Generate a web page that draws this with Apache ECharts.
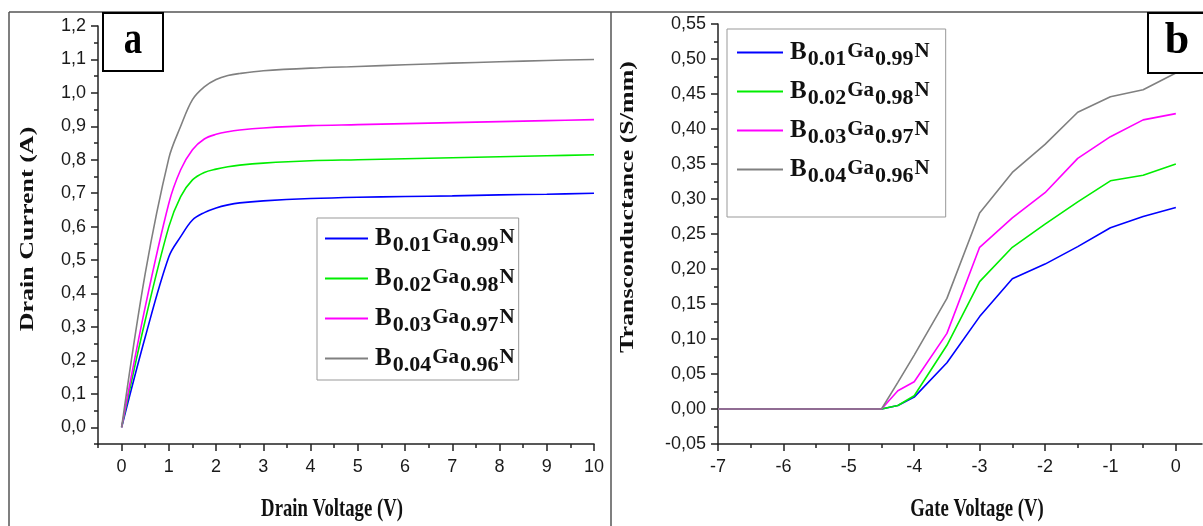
<!DOCTYPE html>
<html>
<head>
<meta charset="utf-8">
<script src="https://cdn.jsdelivr.net/npm/echarts@6/dist/echarts.min.js"></script>
<style>
html,body{margin:0;padding:0;background:#fff;}
#chart{width:1203px;height:526px;}
</style>
</head>
<body>
<div id="chart"></div>
<script>
// ---------- data ----------
const seriesNames = ['B0.01Ga0.99N', 'B0.02Ga0.98N', 'B0.03Ga0.97N', 'B0.04Ga0.96N'];
const bFrac = ['0.01', '0.02', '0.03', '0.04'];
const gaFrac = ['0.99', '0.98', '0.97', '0.96'];
const colors = ['#0000FF', '#00EE00', '#FF00FF', '#808080'];

// panel a: drain current vs drain voltage
const drainVoltage = [0, 0.5, 1.0, 1.25, 1.5, 1.75, 2.0, 2.25, 2.5, 3, 4, 5, 6, 7, 8, 9, 10];
const idB001 = [0, 0.27, 0.51, 0.57, 0.62, 0.642, 0.656, 0.665, 0.671, 0.677, 0.684, 0.688, 0.690, 0.692, 0.695, 0.697, 0.700];
const idB002 = [0, 0.32, 0.60, 0.69, 0.74, 0.762, 0.772, 0.779, 0.784, 0.790, 0.797, 0.800, 0.803, 0.806, 0.809, 0.812, 0.815];
const idB003 = [0, 0.36, 0.67, 0.77, 0.83, 0.862, 0.876, 0.884, 0.889, 0.895, 0.902, 0.905, 0.908, 0.911, 0.914, 0.917, 0.920];
const idB004 = [0, 0.46, 0.805, 0.90, 0.98, 1.018, 1.040, 1.052, 1.058, 1.066, 1.074, 1.079, 1.084, 1.089, 1.093, 1.097, 1.100];

// panel b: transconductance vs gate voltage
const gateVoltage = [-7, -6.5, -6, -5.5, -5, -4.5, -4.25, -4, -3.5, -3, -2.5, -2, -1.5, -1, -0.5, 0];
const gmB001 = [0, 0, 0, 0, 0, 0, 0.005, 0.017, 0.066, 0.132, 0.186, 0.207, 0.232, 0.259, 0.275, 0.288];
const gmB002 = [0, 0, 0, 0, 0, 0, 0.005, 0.019, 0.091, 0.182, 0.231, 0.264, 0.296, 0.326, 0.334, 0.350];
const gmB003 = [0, 0, 0, 0, 0, 0, 0.026, 0.039, 0.108, 0.231, 0.273, 0.309, 0.358, 0.389, 0.413, 0.422];
const gmB004 = [0, 0, 0, 0, 0, 0, 0.038, 0.077, 0.158, 0.280, 0.338, 0.378, 0.424, 0.446, 0.456, 0.480];

// ticks
const xTicksA = [0, 1, 2, 3, 4, 5, 6, 7, 8, 9, 10];
const xMinorA = [-0.5, 0.5, 1.5, 2.5, 3.5, 4.5, 5.5, 6.5, 7.5, 8.5, 9.5];
const yTicksA = [0, 0.1, 0.2, 0.3, 0.4, 0.5, 0.6, 0.7, 0.8, 0.9, 1.0, 1.1, 1.2];
const yMinorA = [-0.05, 0.05, 0.15, 0.25, 0.35, 0.45, 0.55, 0.65, 0.75, 0.85, 0.95, 1.05, 1.15];
const xTicksB = [-7, -6, -5, -4, -3, -2, -1, 0];
const xMinorB = [-6.5, -5.5, -4.5, -3.5, -2.5, -1.5, -0.5];
const yTicksB = [-0.05, 0, 0.05, 0.10, 0.15, 0.20, 0.25, 0.30, 0.35, 0.40, 0.45, 0.50, 0.55];
const yMinorB = [-0.025, 0.025, 0.075, 0.125, 0.175, 0.225, 0.275, 0.325, 0.375, 0.425, 0.475, 0.525];

// ---------- chart ----------
const chart = echarts.init(document.getElementById('chart'), null, {renderer: 'canvas'});
const axisColor = '#222';
const labelFont = {fontFamily: 'Liberation Sans, Arial, sans-serif', fontSize: 18, color: '#1a1a1a'};

function majorAxis(gridIndex, min, max, ticks, fmt, isY) {
  return {
    type: 'value', gridIndex, min, max,
    position: isY ? 'left' : 'bottom',
    axisLine: {show: true, onZero: false, lineStyle: {color: axisColor, width: 1.5}},
    axisTick: {show: true, inside: false, length: 7, customValues: ticks, lineStyle: {color: axisColor, width: 1.5}},
    axisLabel: Object.assign({show: true, customValues: ticks, margin: isY ? 12 : 14, formatter: fmt}, labelFont),
    splitLine: {show: false}
  };
}
function minorAxis(gridIndex, min, max, ticks, isY) {
  return {
    type: 'value', gridIndex, min, max,
    position: isY ? 'left' : 'bottom',
    axisLine: {show: false, onZero: false},
    axisTick: {show: true, inside: false, length: 4, customValues: ticks, lineStyle: {color: axisColor, width: 1.5}},
    axisLabel: {show: false},
    splitLine: {show: false}
  };
}
const fmt1 = v => v.toFixed(1).replace('.', ',');
const fmt2 = v => v.toFixed(2).replace('.', ',');
const fmt0 = v => String(Math.round(v));

const serifBold = 'Liberation Serif, Times New Roman, serif';
const legendRich = {
  b: {fontFamily: serifBold, fontWeight: 'bold', fontSize: 25, lineHeight: 26, color: '#111', padding: [0, 0, 0, 2]},
  s: {fontFamily: serifBold, fontWeight: 'bold', fontSize: 22, lineHeight: 22, color: '#111', padding: [13, 1, 0, 1]},
  g: {fontFamily: serifBold, fontWeight: 'bold', fontSize: 21, lineHeight: 22, color: '#111', padding: [0, 0, 1, 0]}
};
function legendFmt(name) {
  const i = seriesNames.indexOf(name);
  return '{b|B}{s|' + bFrac[i] + '}{g|Ga}{s|' + gaFrac[i] + '}{g|N}';
}
function makeLegend(left, top, gap, padding, iw) {
  return {
    show: true, orient: 'vertical', left, top,
    data: seriesNames, icon: 'rect', itemWidth: iw, itemHeight: 2, itemGap: gap,
    padding, borderColor: '#999', borderWidth: 1, backgroundColor: '#fff',
    selectedMode: false, formatter: legendFmt,
    textStyle: {rich: legendRich}
  };
}

const series = [];
const aData = [idB001, idB002, idB003, idB004];
const bData = [gmB001, gmB002, gmB003, gmB004];
for (let i = 0; i < 4; i++) {
  series.push({
    name: seriesNames[i], type: 'line', xAxisIndex: 0, yAxisIndex: 0,
    data: drainVoltage.map((x, k) => [x, aData[i][k]]),
    showSymbol: false, symbol: 'none', smooth: 0.35,
    lineStyle: {color: colors[i], width: 1.6}, itemStyle: {color: colors[i]}
  });
}
for (let i = 0; i < 4; i++) {
  series.push({
    name: seriesNames[i], type: 'line', xAxisIndex: 2, yAxisIndex: 2,
    data: gateVoltage.map((x, k) => [x, bData[i][k]]),
    showSymbol: false, symbol: 'none',
    lineStyle: {color: colors[i], width: 1.6}, itemStyle: {color: colors[i]}
  });
}

const option = {
  animation: false,
  backgroundColor: '#fff',
  grid: [
    {left: 98, top: 26, width: 496, height: 418},
    {left: 718, top: 24, width: 484, height: 420}
  ],
  xAxis: [
    majorAxis(0, -0.5, 10, xTicksA, fmt0, false),
    minorAxis(0, -0.5, 10, xMinorA, false),
    majorAxis(1, -7, 0.4, xTicksB, fmt0, false),
    minorAxis(1, -7, 0.4, xMinorB, false)
  ],
  yAxis: [
    majorAxis(0, -0.05, 1.2, yTicksA, fmt1, true),
    minorAxis(0, -0.05, 1.2, yMinorA, true),
    majorAxis(1, -0.05, 0.55, yTicksB, fmt2, true),
    minorAxis(1, -0.05, 0.55, yMinorB, true)
  ],
  legend: [
    makeLegend(317, 218, 5, [3, 4, 4, 8], 43),
    makeLegend(727, 29, 4, [6, 16, 30, 10], 46)
  ],
  series,
  graphic: [
    // outer frame
    {type: 'line', shape: {x1: 9, y1: 12, x2: 1203, y2: 12}, style: {stroke: '#555', lineWidth: 1.5}, z: 100},
    {type: 'line', shape: {x1: 9, y1: 12, x2: 9, y2: 526}, style: {stroke: '#555', lineWidth: 1.5}, z: 100},
    {type: 'line', shape: {x1: 611, y1: 12, x2: 611, y2: 526}, style: {stroke: '#555', lineWidth: 1.5}, z: 100},
    // panel labels
    {type: 'rect', shape: {x: 103, y: 13, width: 60, height: 58}, style: {fill: '#fff', stroke: '#000', lineWidth: 2}, z: 100},
    {type: 'text', x: 133, y: 41, scaleX: 0.8, style: {text: 'a', fontFamily: serifBold, fontWeight: 'bold', fontSize: 46, fill: '#000', align: 'center', verticalAlign: 'middle'}, z: 101},
    {type: 'rect', shape: {x: 1148, y: 13, width: 70, height: 60}, style: {fill: '#fff', stroke: '#000', lineWidth: 2}, z: 100},
    {type: 'text', x: 1177, y: 42, style: {text: 'b', fontFamily: serifBold, fontWeight: 'bold', fontSize: 44, fill: '#000', align: 'center', verticalAlign: 'middle'}, z: 101},
    // axis titles
    {type: 'text', x: 332, y: 509, scaleX: 0.72, style: {text: 'Drain Voltage (V)', fontFamily: serifBold, fontWeight: 'bold', fontSize: 26, fill: '#111', align: 'center', verticalAlign: 'middle'}, z: 101},
    {type: 'text', x: 977, y: 509, scaleX: 0.72, style: {text: 'Gate Voltage (V)', fontFamily: serifBold, fontWeight: 'bold', fontSize: 26, fill: '#111', align: 'center', verticalAlign: 'middle'}, z: 101},
    {type: 'text', x: 28, y: 229, rotation: Math.PI / 2, scaleY: 0.72, style: {text: 'Drain Current (A)', fontFamily: serifBold, fontWeight: 'bold', fontSize: 26, fill: '#111', align: 'center', verticalAlign: 'middle'}, z: 101},
    {type: 'text', x: 628, y: 207, rotation: Math.PI / 2, scaleY: 0.72, style: {text: 'Transconductance (S/mm)', fontFamily: serifBold, fontWeight: 'bold', fontSize: 26, fill: '#111', align: 'center', verticalAlign: 'middle'}, z: 101}
  ]
};
chart.setOption(option);
</script>
</body>
</html>
